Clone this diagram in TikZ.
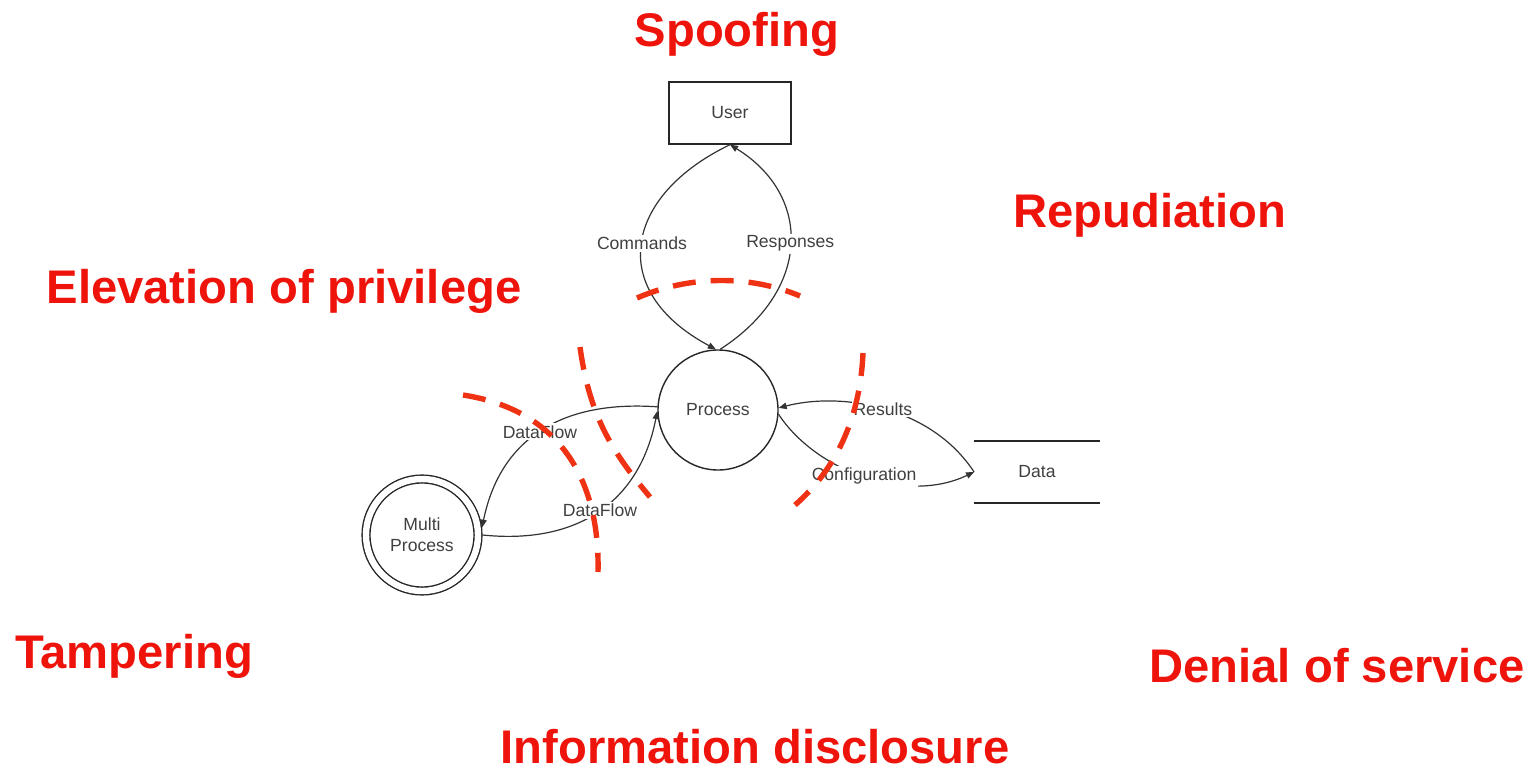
\documentclass[tikz,border=0pt]{standalone}
\usepackage{fontspec}
\setmainfont{Liberation Sans}
\usetikzlibrary{arrows.meta}
\definecolor{threatred}{RGB}{238,20,12}
\definecolor{cutred}{RGB}{240,50,20}
\begin{document}
\begin{tikzpicture}[x=0.5pt, y=-0.5pt,
    threat/.style={text=threatred, inner sep=0pt, font=\fontsize{23.6}{28}\selectfont\bfseries},
    small/.style={text=black!75, font=\fontsize{8.8}{10.5}\selectfont},
    flow/.style={draw=black!80, line width=0.6pt, -{Triangle[length=4pt,width=3.2pt]}},
    flowlabel/.style={small, fill=white, inner sep=1pt},
    cut/.style={draw=cutred, line width=2.7pt, dash pattern=on 11.5pt off 7.5pt}]
    % Bounding box
    \useasboundingbox (0,0) rectangle (1540,775);

    % Draw elements
    \node[draw=black!85, line width=0.7pt, minimum width=61pt, minimum height=31pt, small] (user) at (730,113) {User};
    \node[draw=black!85, line width=0.7pt, circle, minimum size=60pt, small] (proc) at (718,410) {Process};
    \node[draw=black!85, line width=0.7pt, circle, double, double distance=3.2pt, minimum size=56pt, outer sep=2.2pt, align=center, small] (multi) at (422,535) {Multi\\Process};
    \node[minimum width=62.5pt, minimum height=30.5pt, small] (data) at (1037,472) {Data};
    \draw[black!85, line width=0.7pt] (data.north west) -- (data.north east);
    \draw[black!85, line width=0.7pt] (data.south west) -- (data.south east);

    % Draw flows
    \draw[flow] (user.south) .. controls (625,195) and (605,290) .. (proc.92) node[flowlabel, pos=0.5] {Commands};
    \draw[flow] (proc.88) .. controls (812,290) and (812,195) .. (user.south) node[flowlabel, pos=0.5] {Responses};
    \draw[flow] (proc.177) .. controls (560,400) and (500,440) .. (multi.7) node[flowlabel, pos=0.5] {DataFlow};
    \draw[flow] (multi.east) .. controls (580,545) and (640,500) .. (proc.181) node[flowlabel, pos=0.5] {DataFlow};
    \draw[flow] (data.west) .. controls (930,405) and (840,392) .. (proc.2) node[flowlabel, pos=0.5] {Results};
    \draw[flow] (proc.-4) .. controls (815,470) and (905,505) .. (data.west) node[flowlabel, pos=0.5] {Configuration};

    % Draw trust boundaries
    \draw[cut] (637,298) .. controls (690,275) and (750,275) .. (800,296);
    \draw[cut] (580,347) .. controls (590,420) and (615,455) .. (650,497);
    \draw[cut] (463,395) .. controls (560,410) and (600,480) .. (598,572);
    \draw[cut] (863,353) .. controls (860,420) and (835,470) .. (795,505);

    % Threat labels
    \node[threat] (spoof) at (737,34) {Spoofing};
    \node[threat] (repud) at (1150,215) {Repudiation};
    \node[threat] (elev) at (284,291) {Elevation of privilege};
    \node[threat] (tamper) at (134,656) {Tampering};
    \node[threat] (dos) at (1337,666) {Denial of service};
    \node[threat] (info) at (755,747) {Information disclosure};
\end{tikzpicture}
\end{document}
